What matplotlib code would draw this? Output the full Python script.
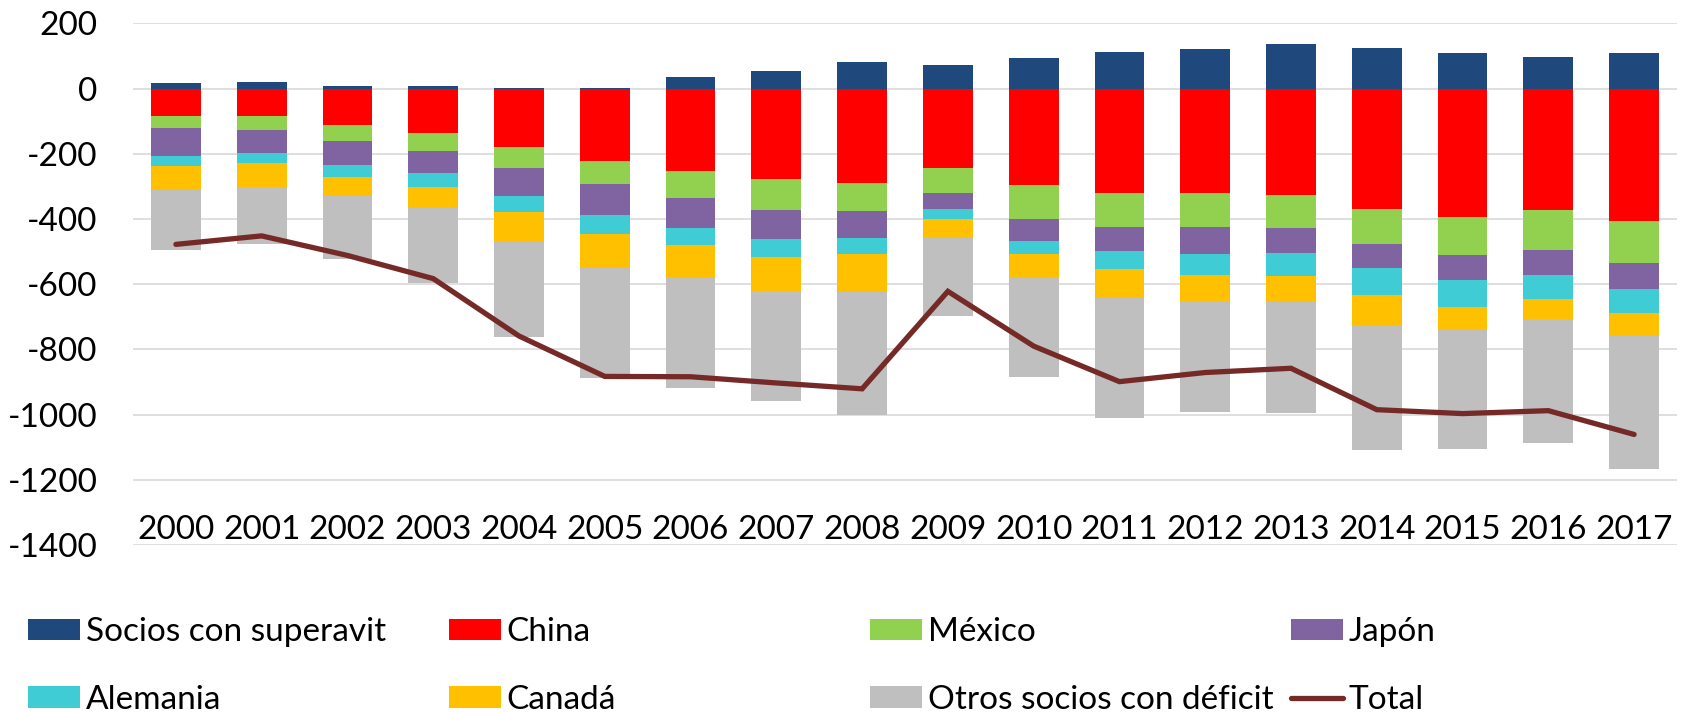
import numpy as np
import matplotlib
matplotlib.use("Agg")
import matplotlib.pyplot as plt
from matplotlib.patches import Patch
from matplotlib.lines import Line2D

plt.rcParams['font.family'] = ['Lato', 'DejaVu Sans']
plt.rcParams['axes.unicode_minus'] = False

years = [str(y) for y in range(2000, 2018)]
superavit = [18, 20, 9, 9, 1, 3, 34, 55, 82, 73, 95, 112, 122, 137, 124, 109, 98, 108]
china = [-85, -85, -112, -137, -178, -223, -253, -278, -289, -244, -297, -321, -321, -327, -369, -395, -374, -405]
mexico = [-35, -42, -49, -54, -65, -71, -82, -95, -88, -75, -102, -105, -105, -100, -107, -115, -120, -131]
japon = [-86, -71, -74, -68, -86, -94, -93, -90, -82, -49, -68, -71, -81, -77, -74, -78, -79, -78]
alemania = [-32, -31, -36, -43, -51, -57, -52, -54, -49, -33, -39, -57, -64, -70, -83, -81, -73, -74]
canada = [-72, -73, -58, -64, -90, -104, -99, -105, -116, -56, -73, -85, -80, -81, -92, -69, -61, -72]
otros = [-186, -174, -194, -229, -292, -338, -339, -336, -378, -242, -307, -373, -342, -340, -384, -368, -379, -408]
total = [-478, -452, -512, -583, -759, -883, -884, -903, -921, -622, -790, -899, -871, -858, -985, -997, -988, -1061]

labels = ["Socios con superavit", "China", "México", "Japón", "Alemania", "Canadá",
          "Otros socios con déficit", "Total"]
colors = ["#1F497D", "#FF0000", "#92D050", "#8064A2", "#40CCD5", "#FFC000", "#BFBFBF"]
line_color = "#762A28"

W, H = 1684, 712
fig = plt.figure(figsize=(W / 100, H / 100), dpi=100)
ax = fig.add_axes([133 / W, 1 - 545 / H, (1677 - 133) / W, (545 - 23.3) / H])

x = np.arange(len(years))
bw = 0.58
FS = 24

ax.bar(x, superavit, bw, color=colors[0], label=labels[0], zorder=2)
neg_series = [china, mexico, japon, alemania, canada, otros]
bottom = np.zeros(len(years))
for vals, col, lab in zip(neg_series, colors[1:], labels[1:7]):
    v = np.array(vals, dtype=float)
    ax.bar(x, v, bw, bottom=bottom, color=col, label=lab, zorder=2)
    bottom = bottom + v

ax.plot(x, total, color=line_color, lw=3.8, solid_capstyle='round',
        solid_joinstyle='miter', zorder=3, label=labels[7])

ax.set_xlim(-0.5, len(years) - 0.5)
ax.set_ylim(-1400, 200)
ax.set_yticks(np.arange(-1400, 201, 200))
ax.yaxis.grid(True, color="#D9D9D9", lw=1.2)
ax.set_axisbelow(True)
for s in ax.spines.values():
    s.set_visible(False)
ax.tick_params(axis='y', length=0, pad=25.4, labelsize=FS)
ax.set_xticks([])
for xi, yr in zip(x, years):
    ax.text(xi, -1381, yr, ha='center', va='baseline', fontsize=FS, color='black')

# legend: four columns of two entries
handles = [Patch(facecolor=c, edgecolor='none') for c in colors] + \
          [Line2D([0], [0], color=line_color, lw=3.8, solid_capstyle='round')]
cols = [(0, 4), (1, 5), (2, 6), (3, 7)]
col_x = [28, 449, 870, 1291]
for (i, j), cx in zip(cols, col_x):
    fig.legend([handles[i], handles[j]], [labels[i], labels[j]],
               loc='center left', bbox_to_anchor=(cx / W, 1 - 666 / H),
               frameon=False, fontsize=FS, handlelength=1.56, handleheight=0.61,
               handletextpad=0.17, borderpad=0, borderaxespad=0, labelspacing=1.13)

fig.savefig("out.png", dpi=100)
